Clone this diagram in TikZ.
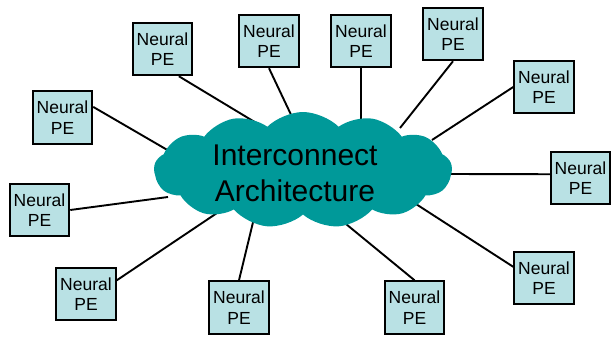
\documentclass[tikz,border=0pt]{standalone}
\usepackage{fontspec}
\setmainfont{Liberation Sans}
\usetikzlibrary{shapes.symbols,backgrounds}
\definecolor{cloudteal}{RGB}{0,153,153}
\definecolor{peblue}{RGB}{185,225,228}
\tikzset{
	pebox/.style={draw=black,line width=2pt,fill=peblue,minimum width=59.5pt,minimum height=52.5pt,inner sep=0pt,align=center,font=\fontsize{17.5}{20.5}\selectfont},
	link/.style={black,line width=1.9pt},
	icloud/.style={cloud,cloud puffs=13,cloud puff arc=90,aspect=2.6,fill=cloudteal,minimum width=298pt,minimum height=116pt,inner sep=0pt},
	iclabel/.style={align=center,inner sep=0pt,font=\fontsize{30}{36}\selectfont}
}

\begin{document}
\begin{tikzpicture}[x=1pt,y=-1pt]
		\useasboundingbox (0,0) rectangle (611,337);
		\node [icloud] (ic) at (303,170) {};
		\node [iclabel] (ictext) at (295,173) {Interconnect\\Architecture};
		\node [pebox] (pe1) at (162.5,49) {Neural\\PE};
		\node [pebox] (pe2) at (269,41) {Neural\\PE};
		\node [pebox] (pe3) at (62.5,117.5) {Neural\\PE};
		\node [pebox] (pe4) at (361,41) {Neural\\PE};
		\node [pebox] (pe5) at (453,34) {Neural\\PE};
		\node [pebox] (pe6) at (544,87) {Neural\\PE};
		\node [pebox] (pe7) at (580.5,178) {Neural\\PE};
		\node [pebox] (pe8) at (544,278) {Neural\\PE};
		\node [pebox] (pe9) at (414.5,307.5) {Neural\\PE};
		\node [pebox] (pe10) at (239,307.5) {Neural\\PE};
		\node [pebox] (pe11) at (86,294) {Neural\\PE};
		\node [pebox] (pe12) at (39.5,210) {Neural\\PE};
		\coordinate (c1) at (258,124);
		\coordinate (c2) at (294,121);
		\coordinate (c3) at (176,155);
		\coordinate (c4) at (361,120);
		\coordinate (c5) at (400,128);
		\coordinate (c6) at (432,140);
		\coordinate (c7) at (446,174);
		\coordinate (c8) at (402,195);
		\coordinate (c9) at (335,215);
		\coordinate (c10) at (255,214);
		\coordinate (c11) at (220,211);
		\coordinate (c12) at (168,197);
		\begin{pgfonlayer}{background}
		\draw [link] (pe1.-59) -- (c1);
		\draw [link] (pe2.south) -- (c2);
		\draw [link] (pe3.19) -- (c3);
		\draw [link] (pe4.south) -- (c4);
		\draw [link] (pe5.south) -- (c5);
		\draw [link] (pe6.west) -- (c6);
		\draw [link] (pe7.173) -- (c7);
		\draw [link] (pe8.160) -- (c8);
		\draw [link] (pe9.north) -- (c9);
		\draw [link] (pe10.north) -- (c10);
		\draw [link] (pe11.24) -- (c11);
		\draw [link] (pe12.east) -- (c12);
		\end{pgfonlayer}
		\end{tikzpicture}
\end{document}
